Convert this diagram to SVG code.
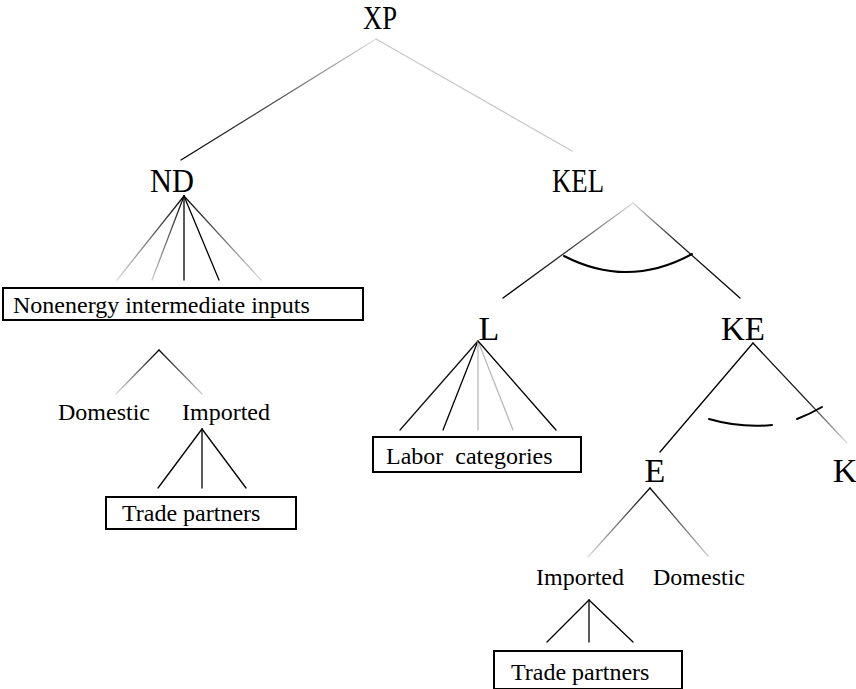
<svg xmlns="http://www.w3.org/2000/svg" width="856" height="689" viewBox="0 0 856 689">
<style>
text{font-family:"Liberation Serif","Noto Serif","DejaVu Serif","Times New Roman",serif;fill:#000}
.big{font-size:34px}
.sm{font-size:24px}
.box{fill:#fff;stroke:#000;stroke-width:2}
.ln{fill:none;stroke-width:1.3;stroke-linecap:round}
.arc{fill:none;stroke:#000;stroke-width:2;stroke-linecap:round}
</style>
<defs>
<linearGradient id="g1" gradientUnits="userSpaceOnUse" x1="376" y1="39" x2="181" y2="160"><stop offset="0" stop-color="#e0e0e0"/><stop offset="0.5" stop-color="#555"/><stop offset="1" stop-color="#000"/></linearGradient>
<linearGradient id="gKL" gradientUnits="userSpaceOnUse" x1="633" y1="203" x2="503" y2="298"><stop offset="0" stop-color="#ddd"/><stop offset="0.5" stop-color="#333"/><stop offset="1" stop-color="#000"/></linearGradient>
<linearGradient id="gKK" gradientUnits="userSpaceOnUse" x1="633" y1="203" x2="740" y2="298"><stop offset="0" stop-color="#ddd"/><stop offset="0.4" stop-color="#222"/><stop offset="1" stop-color="#000"/></linearGradient>
<linearGradient id="gN1" gradientUnits="userSpaceOnUse" x1="184" y1="196" x2="117" y2="280"><stop offset="0" stop-color="#000"/><stop offset="1" stop-color="#ddd"/></linearGradient>
<linearGradient id="gN2" gradientUnits="userSpaceOnUse" x1="184" y1="196" x2="152" y2="280"><stop offset="0" stop-color="#000"/><stop offset="1" stop-color="#ccc"/></linearGradient>
<linearGradient id="gN5" gradientUnits="userSpaceOnUse" x1="184" y1="196" x2="261" y2="280"><stop offset="0" stop-color="#000"/><stop offset="1" stop-color="#ddd"/></linearGradient>
<linearGradient id="gD1" gradientUnits="userSpaceOnUse" x1="159" y1="350" x2="116" y2="394"><stop offset="0" stop-color="#000"/><stop offset="1" stop-color="#ddd"/></linearGradient>
<linearGradient id="gD2" gradientUnits="userSpaceOnUse" x1="159" y1="350" x2="202" y2="394"><stop offset="0" stop-color="#000"/><stop offset="1" stop-color="#ccc"/></linearGradient>
<linearGradient id="gKEK" gradientUnits="userSpaceOnUse" x1="753" y1="343" x2="847" y2="443"><stop offset="0" stop-color="#000"/><stop offset="0.6" stop-color="#222"/><stop offset="1" stop-color="#ddd"/></linearGradient>
<linearGradient id="gE1" gradientUnits="userSpaceOnUse" x1="650" y1="488" x2="588" y2="557"><stop offset="0" stop-color="#000"/><stop offset="1" stop-color="#ddd"/></linearGradient>
<linearGradient id="gE2" gradientUnits="userSpaceOnUse" x1="650" y1="488" x2="708" y2="556"><stop offset="0" stop-color="#000"/><stop offset="1" stop-color="#ccc"/></linearGradient>
</defs>

<g id="connectors">
<line class="ln" x1="376" y1="39" x2="181" y2="160" stroke="url(#g1)"/>
<line class="ln" x1="376" y1="39" x2="572" y2="151" stroke="#c8c8c8"/>
<line class="ln" x1="184" y1="196" x2="117" y2="280" stroke="url(#gN1)"/>
<line class="ln" x1="184" y1="196" x2="152" y2="280" stroke="url(#gN2)"/>
<line class="ln" x1="184" y1="196" x2="184" y2="280" stroke="#000" stroke-width="2"/>
<line class="ln" x1="184" y1="196" x2="219" y2="280" stroke="#000" stroke-width="2"/>
<line class="ln" x1="184" y1="196" x2="261" y2="280" stroke="url(#gN5)"/>
<line class="ln" x1="159" y1="350" x2="116" y2="394" stroke="url(#gD1)"/>
<line class="ln" x1="159" y1="350" x2="202" y2="394" stroke="url(#gD2)"/>
<line class="ln" x1="202" y1="429" x2="158" y2="488" stroke="#000" stroke-width="1.6"/>
<line class="ln" x1="202" y1="429" x2="202" y2="488" stroke="#000" stroke-width="1.3"/>
<line class="ln" x1="202" y1="429" x2="246" y2="488" stroke="#000" stroke-width="1.6"/>
<line class="ln" x1="633" y1="203" x2="503" y2="298" stroke="url(#gKL)"/>
<line class="ln" x1="633" y1="203" x2="740" y2="298" stroke="url(#gKK)"/>
<path class="arc" d="M564,256 Q628,289 692,254"/>
<line class="ln" x1="478" y1="341" x2="400" y2="430" stroke="#111"/>
<line class="ln" x1="478" y1="341" x2="443" y2="430" stroke="#000" stroke-width="2"/>
<line class="ln" x1="478" y1="341" x2="478" y2="430" stroke="#bbb"/>
<line class="ln" x1="478" y1="341" x2="513" y2="430" stroke="#bbb"/>
<line class="ln" x1="478" y1="341" x2="556" y2="430" stroke="#000"/>
<line class="ln" x1="753" y1="343" x2="660" y2="452" stroke="#000" stroke-width="1.6"/>
<line class="ln" x1="753" y1="343" x2="847" y2="443" stroke="url(#gKEK)"/>
<path class="arc" d="M709,419 Q740,428 772,425"/>
<path class="arc" d="M797,419 Q810,414 822,407"/>
<line class="ln" x1="650" y1="488" x2="588" y2="557" stroke="url(#gE1)"/>
<line class="ln" x1="650" y1="488" x2="708" y2="556" stroke="url(#gE2)"/>
<line class="ln" x1="589" y1="600" x2="547" y2="642" stroke="#000" stroke-width="1.6"/>
<line class="ln" x1="589" y1="600" x2="589" y2="642" stroke="#000" stroke-width="2"/>
<line class="ln" x1="589" y1="600" x2="633" y2="642" stroke="#000" stroke-width="1.6"/>
</g>

<g id="XP"><text class="big" x="380" y="29" text-anchor="middle" textLength="34" lengthAdjust="spacingAndGlyphs">XP</text></g>
<g id="ND"><text class="big" x="172" y="192" text-anchor="middle" textLength="44" lengthAdjust="spacingAndGlyphs">ND</text></g>
<g id="KEL"><text class="big" x="578" y="192" text-anchor="middle" textLength="52" lengthAdjust="spacingAndGlyphs">KEL</text></g>
<g id="nonenergy"><rect class="box" x="3" y="288" width="360" height="32"/><text class="sm" x="13" y="313">Nonenergy intermediate inputs</text></g>
<g id="domestic1"><text class="sm" x="58" y="420">Domestic</text></g>
<g id="imported1"><text class="sm" x="182" y="420">Imported</text></g>
<g id="trade1"><rect class="box" x="106" y="497" width="190" height="32"/><text class="sm" x="122" y="521">Trade partners</text></g>
<g id="L"><text class="big" x="489" y="340" text-anchor="middle">L</text></g>
<g id="labor"><rect class="box" x="373" y="437" width="208" height="35"/><text class="sm" x="386" y="464" xml:space="preserve">Labor  categories</text></g>
<g id="KE"><text class="big" x="743" y="340" text-anchor="middle" textLength="44" lengthAdjust="spacingAndGlyphs">KE</text></g>
<g id="E"><text class="big" x="655" y="482" text-anchor="middle">E</text></g>
<g id="K"><text class="big" x="845" y="482" text-anchor="middle">K</text></g>
<g id="imported2"><text class="sm" x="536" y="585">Imported</text></g>
<g id="domestic2"><text class="sm" x="653" y="585">Domestic</text></g>
<g id="trade2"><rect class="box" x="494" y="651" width="188" height="38"/><text class="sm" x="511" y="680">Trade partners</text></g>
</svg>
